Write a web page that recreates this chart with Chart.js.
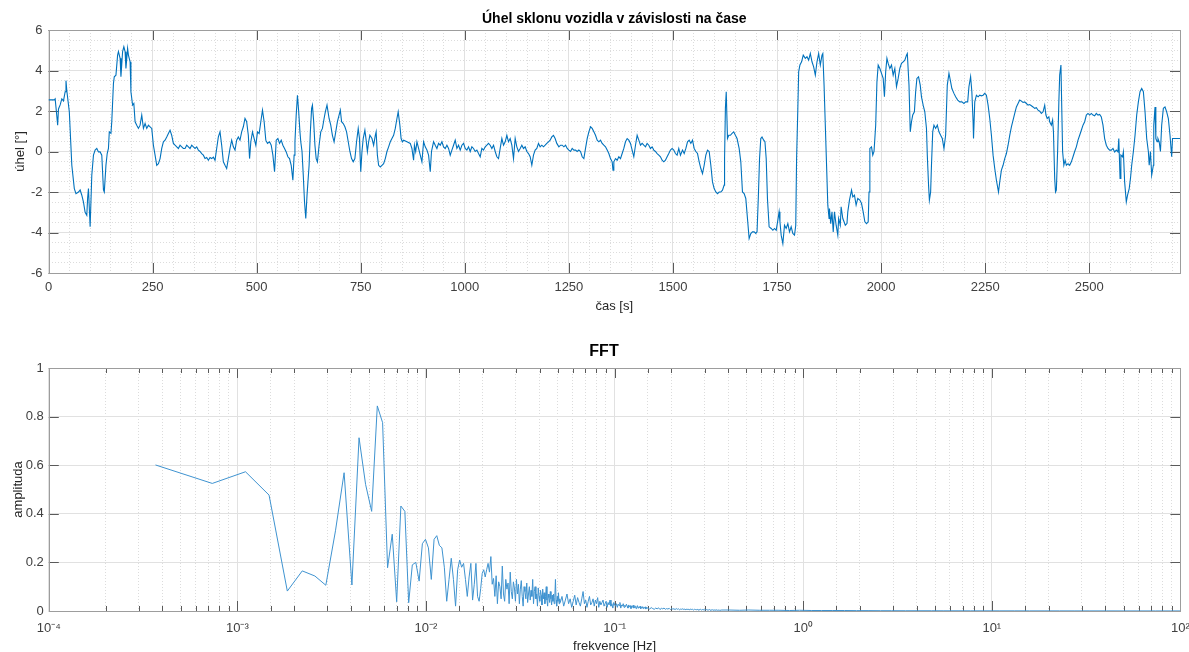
<!DOCTYPE html>
<html>
<head>
<meta charset="utf-8">
<script src="https://cdn.jsdelivr.net/npm/chart.js@4.4.1/dist/chart.umd.min.js"></script>
<style>
  html, body { margin: 0; padding: 0; background: #ffffff; }
  body { width: 1189px; height: 652px; position: relative; overflow: hidden; }
  #angleChart { position: absolute; left: 0; top: 0; width: 1189px; height: 320px; }
  #fftChart { position: absolute; left: 0; top: 340px; width: 1189px; height: 314px; }
</style>
</head>
<body>
<canvas id="angleChart" width="1189" height="320"></canvas>
<canvas id="fftChart" width="1189" height="314"></canvas>
<script>
// ---------------- measured pitch angle of the vehicle ----------------
const timeS = [
  0,14,16,19,22,24,28,32,36,40,
  42,44,50,53,56,62,66,72,76,80,
  84,88,92,94,96,100,104,108,112,116,
  120,124,128,132,134,138,141,144,146,150,
  152,156,158,162,166,168,172,174,178,181,
  184,186,190,192,196,198,202,205,208,212,
  216,220,224,228,232,236,240,244,248,252,
  256,260,264,268,272,276,280,284,288,292,
  296,300,304,308,312,316,320,324,328,332,
  336,340,344,348,352,356,360,364,368,372,
  376,380,384,388,392,396,400,404,408,412,
  416,420,424,428,432,436,440,444,448,452,
  456,460,464,468,472,476,480,483,486,490,
  494,498,502,506,510,514,518,522,526,
  531,535,539,543,547,551,555,559,563,567,
  571,575,579,583,587,590,592,595,598,601,
  604,606,609,612,615,618,621,626,629,632,
  634,637,640,643,646,650,654,658,662,665,
  669,674,678,682,686,690,694,698,701,704,
  708,712,716,720,724,728,732,736,740,744,
  747,750,753,756,760,763,766,769,772,777,
  781,785,787,790,793,797,801,805,809,813,
  817,821,825,829,833,837,840,844,847,850,
  853,861,869,873,877,879,882,885,889,893,
  897,901,905,909,913,917,920,925,929,933,
  937,941,945,949,953,957,961,965,969,973,
  977,981,985,989,993,997,1001,1005,1009,1013,
  1017,1021,1025,1029,1033,1037,1041,1045,1049,1053,
  1057,1061,1065,1069,
  1073,1077,1081,1085,1089,1093,1097,1101,1105,1109,
  1113,1117,1121,1125,1129,1133,1137,1141,1145,1149,
  1153,1157,1161,1165,1169,1173,1177,1181,1185,1189,
  1193,1197,1201,1205,1209,1213,1217,1221,1226,1230,
  1234,1238,1242,1246,1250,1254,1258,1262,1266,1270,
  1274,1278,1282,1286,1290,1294,1298,1302,1306,1310,
  1314,1318,1322,1326,1330,1334,1338,1342,1346,1350,
  1354,1356,1358,1362,1366,1370,1374,1378,1382,1386,
  1390,1394,1398,1402,1406,1410,1414,1418,1422,1426,
  1430,1434,1438,1442,1446,1450,1454,1458,1462,1466,
  1470,1474,1478,1482,1486,1490,1494,1498,1502,1506,
  1510,1514,1518,1523,1527,1531,1535,1539,1543,1547,
  1551,1555,1559,1563,1567,1571,1575,1579,1583,1587,
  1591,1595,1599,1603,1607,1611,
  1615,1619,1623,1624,1626,1628,1631,1634,1638,1642,
  1646,1650,1654,1659,1663,1667,1671,1675,1679,1683,
  1687,1691,1695,1699,1702,1705,1708,1711,1714,1718,
  1721,1724,1727,1731,1736,1740,1744,1748,1752,1755,
  1757,1760,1764,1768,1772,1776,1780,1784,1788,1792,
  1795,1797,1800,1802,1805,1809,1813,1818,1822,1826,
  1830,1834,1838,1842,1846,1850,1854,1858,1860,1863,
  1866,1869,1872,1875,1876,1879,1882,1885,1888,1892,
  1896,1898,1902,1904,1908,1911,1914,1918,1920,1924,
  1929,1932,1936,1940,1944,1949,1953,1957,1961,1965,
  1969,1971,1973,1977,1980,1983,1987,1990,1993,1997,
  2001,2005,2008,2011,2014,2017,2021,2025,2029,2033,
  2037,2041,2045,2049,2053,2057,2061,2063,2067,2070,
  2073,2076,2080,2083,2086,2090,2094,2097,2101,2105,
  2109,2111,2114,2116,2119,2121,2124,2127,2131,2135,
  2139,2143,2147,2151,2155,
  2159,2163,2167,2170,2175,2179,2184,2189,2194,2199,
  2203,2208,2211,2215,2218,2221,2222,2225,2229,2233,
  2237,2241,2245,2249,2253,2257,2261,2265,2269,2273,
  2277,2282,2285,2289,2293,2297,2301,2305,2309,2313,
  2317,2321,2325,2329,2333,2337,2341,2345,2349,2353,
  2357,2361,2365,2369,2373,2377,2381,2385,2389,2393,
  2396,2399,2403,2405,2409,2412,2414,2417,2419,2421,
  2424,2427,2429,2432,2434,2436,2439,2442,2445,2449,
  2453,2457,2461,2465,2469,2473,2477,2481,2485,2489,
  2493,2497,2501,2505,2509,2513,2517,2521,2525,2529,
  2533,2537,2541,2545,2549,2553,2557,2561,2565,2569,
  2571,2574,2576,2580,2582,2585,2589,2592,2596,2599,
  2602,2606,2610,2614,2618,2622,2626,2630,2634,2638,
  2642,2644,2647,2650,2654,2655,2658,2660,2663,2665,
  2668,2671,2674,2678,2682,2686,2690,2694,2698,2700,
  2718
];
const angleDeg = [
  2.55,2.55,2.6,1.96,1.3,2.1,2.3,2.6,2.5,2.95,
  3.5,3.0,1.96,0.64,-0.68,-1.83,-2.08,-2.0,-1.9,-2.16,
  -2.5,-3.0,-3.15,-2.3,-1.83,-3.72,-1.17,-0.18,0.07,0.15,
  -0.02,-0.02,-0.18,-1.9,-2.0,-0.68,-0.1,0.15,0.97,0.9,
  1.47,3.36,3.69,3.77,4.76,4.93,4.6,3.69,4.93,5.17,
  4.93,4.1,5.09,4.76,4.43,2.95,2.29,2.37,1.47,1.3,
  1.14,1.3,1.8,1.14,1.38,1.14,1.3,1.22,1.14,0.31,
  -0.18,-0.68,-0.6,-0.35,0.15,0.48,0.56,0.72,0.89,1.05,
  0.8,0.4,0.31,0.23,0.15,0.31,0.23,0.15,0.15,0.31,
  0.23,0.15,0.31,0.23,0.15,0.23,0.07,0.0,-0.1,-0.18,
  -0.35,-0.3,-0.43,-0.3,-0.35,-0.28,-0.43,0.15,0.72,0.97,
  0.31,-0.51,-0.68,-0.84,-0.35,0.15,0.56,0.23,0.07,0.56,
  0.72,0.56,0.97,1.22,1.63,1.47,0.8,-0.35,0.48,0.97,
  0.64,0.31,0.97,0.89,1.47,2.04,1.47,0.56,0.4,
  0.48,0.31,-0.18,-1.0,0.56,0.64,0.4,0.56,0.31,0.15,
  -0.02,-0.26,-0.35,-0.68,-1.42,-0.18,0.48,1.8,2.78,1.96,
  0.97,0.48,0.0,-1.17,-2.49,-3.31,-2.16,-0.68,0.97,2.13,
  2.29,1.47,0.31,-0.35,-0.51,0.31,0.97,1.14,1.63,1.96,
  2.29,1.63,1.3,0.8,0.48,0.97,1.47,1.8,2.04,1.47,
  1.38,1.22,0.97,0.48,0.0,-0.35,-0.51,-0.35,0.48,1.14,
  0.64,-1.0,0.0,0.64,1.05,0.56,0.0,0.48,0.8,0.64,
  0.31,0.8,0.97,-0.18,-0.68,-0.76,-0.68,-0.6,-0.35,0.0,
  0.23,0.48,0.64,0.8,1.14,1.63,1.96,1.3,0.64,0.48,
  0.56,0.48,0.4,0.15,-0.43,0.31,0.0,0.48,0.15,-0.18,
  -0.51,0.48,0.23,0.07,-0.18,-1.0,0.0,0.48,0.31,0.15,
  0.4,0.31,0.48,0.23,0.15,0.31,0.15,-0.18,0.07,0.31,
  0.56,0.15,0.31,0.07,0.31,0.4,0.15,0.07,0.23,0.0,
  0.23,0.15,0.0,0.07,-0.1,-0.26,0.15,0.07,0.23,0.31,
  0.4,0.31,0.15,0.31,
  0.0,-0.26,-0.35,0.15,0.64,0.31,0.48,0.8,0.48,0.64,
  0.31,-0.35,0.64,0.23,0.0,0.15,0.31,0.15,0.23,0.0,
  -0.1,-0.26,-0.68,-0.18,0.07,0.15,0.4,0.23,0.31,0.23,
  0.31,0.4,0.48,0.56,0.72,0.8,0.64,0.4,0.23,0.31,
  0.31,0.23,0.31,0.15,0.07,0.0,0.15,0.07,0.07,0.0,
  0.07,0.0,-0.26,-0.35,0.15,0.64,0.97,1.22,1.14,0.97,
  0.8,0.56,0.48,0.56,0.4,0.31,0.23,0.07,-0.1,-0.35,
  -0.51,-0.92,-0.51,-0.35,-0.43,-0.26,-0.35,-0.1,0.15,0.48,
  0.64,0.56,0.4,0.07,-0.26,0.31,0.8,0.56,0.31,0.4,
  0.31,0.23,0.4,0.31,0.15,0.23,0.07,0.0,-0.1,-0.18,
  -0.26,-0.43,-0.51,-0.43,-0.26,-0.1,0.07,0.15,0.07,-0.1,
  -0.18,0.15,-0.18,0.07,-0.1,0.15,0.48,0.56,0.4,0.56,
  0.15,0.0,-0.1,-0.51,-0.84,-1.09,-0.68,-0.18,0.07,0.0,
  -0.68,-1.5,-1.83,-2.0,-2.08,-2.0,
  -2.0,-1.91,-1.66,-0.35,2.13,2.95,0.64,0.8,0.8,0.89,
  0.97,0.8,0.64,0.15,-0.51,-2.0,-2.08,-2.32,-3.31,-4.3,
  -4.05,-3.97,-3.97,-4.05,-3.97,-2.32,-0.35,0.64,0.72,0.56,
  0.48,-0.35,-2.32,-3.72,-3.8,-3.89,-3.8,-3.89,-3.39,-2.98,
  -3.47,-4.13,-4.55,-3.64,-3.8,-3.56,-3.97,-3.72,-4.05,-4.13,
  -3.64,-0.35,2.13,3.94,4.27,4.43,4.76,4.6,4.68,4.51,
  4.84,4.43,4.18,3.77,4.43,4.84,4.27,4.76,4.84,3.28,
  1.3,-0.68,-2.65,-3.31,-2.82,-3.56,-2.98,-3.97,-2.98,-3.64,
  -4.13,-3.31,-3.64,-2.73,-3.31,-3.47,-3.64,-3.56,-2.98,-2.4,
  -1.91,-2.24,-2.16,-2.65,-2.32,-2.4,-2.57,-2.98,-3.47,-3.56,
  -3.47,-2.0,0.15,0.23,-0.18,0.0,1.3,3.44,4.27,4.1,
  3.86,3.61,2.7,3.94,4.6,4.35,4.1,4.27,3.77,4.1,
  3.2,3.61,4.1,4.35,4.43,4.51,4.76,4.84,3.28,0.97,
  1.47,1.8,1.96,2.95,3.61,3.69,3.28,2.7,2.29,1.96,
  1.14,-0.18,-1.66,-2.4,-2.0,-0.68,0.97,1.3,1.14,1.3,
  0.97,0.8,0.64,0.15,0.8,
  3.28,3.86,3.44,3.11,2.87,2.7,2.54,2.45,2.45,2.37,
  2.45,2.45,3.2,3.69,2.95,1.47,0.64,2.45,2.78,2.7,
  2.78,2.75,2.78,2.87,2.78,2.29,1.63,0.8,-0.18,-0.84,
  -1.42,-2.0,-1.5,-0.92,-0.68,-0.35,-0.1,0.31,0.8,1.22,
  1.55,1.88,2.2,2.37,2.54,2.49,2.42,2.45,2.37,2.29,
  2.32,2.26,2.2,2.13,2.16,2.04,1.99,1.88,1.96,2.29,
  1.8,1.63,1.71,1.47,1.3,1.55,0.97,-1.33,-2.0,-1.91,
  0.0,2.45,3.77,4.27,2.13,0.0,-0.68,-0.43,-0.68,-0.6,
  -0.68,-0.51,-0.26,0.0,0.23,0.56,0.8,1.05,1.3,1.47,
  1.8,1.88,1.8,1.88,1.8,1.76,1.88,1.8,1.83,1.71,
  1.3,0.64,0.31,0.15,0.07,0.07,0.15,-0.02,0.07,-0.02,
  0.64,-1.33,-0.18,-0.26,-0.02,-1.5,-2.49,-2.16,-1.83,-1.33,
  -0.68,0.0,0.8,1.8,2.45,2.95,3.11,2.95,1.96,0.64,
  0.0,-0.68,0.0,-1.17,-0.68,1.3,2.2,0.64,0.48,0.64,
  0.48,0.0,1.3,2.13,2.2,1.96,1.63,0.8,-0.26,0.64,
  0.64
];
const timeTicks = [0, 250, 500, 750, 1000, 1250, 1500, 1750, 2000, 2250, 2500];
const angleTicks = [-6, -4, -2, 0, 2, 4, 6];

// ---------------- amplitude spectrum of the angle ----------------
const recordLengthS = 2718;          // frequency resolution = 1 / record length
// bins 1..140
const fftAmpFine = [
  0.601,0.525,0.573,0.477,0.082,0.165,0.144,0.106,0.33,0.569,
  0.107,0.713,0.521,0.41,0.844,0.775,0.178,0.316,0.038,0.432,
  0.41,0.034,0.19,0.2,0.123,0.277,0.295,0.26,0.13,0.295,
  0.31,0.27,0.26,0.18,0.04,0.13,0.217,0.13,0.02,0.17,
  0.21,0.18,0.196,0.13,0.06,0.14,0.196,0.045,0.11,0.196,
  0.06,0.04,0.093,0.155,0.17,0.14,0.17,0.196,0.16,0.224,
  0.11,0.134,0.06,0.145,0.03,0.12,0.1,0.05,0.185,0.07,
  0.04,0.13,0.09,0.115,0.03,0.16,0.08,0.05,0.12,0.095,
  0.04,0.13,0.07,0.11,0.03,0.09,0.125,0.06,0.02,0.1,
  0.08,0.05,0.115,0.035,0.07,0.1,0.045,0.085,0.06,0.13,
  0.03,0.08,0.1,0.05,0.07,0.02,0.095,0.06,0.04,0.085,
  0.065,0.025,0.09,0.05,0.075,0.03,0.06,0.1,0.045,0.02,
  0.07,0.055,0.035,0.08,0.05,0.025,0.065,0.04,0.07,0.03,
  0.055,0.13,0.045,0.02,0.06,0.04,0.075,0.03,0.05,0.035
];
// bins 143, 146, ... 401
const fftAmpMid = [
  0.06,0.02,0.045,0.07,0.03,0.05,0.015,0.04,0.065,0.025,
  0.055,0.035,0.02,0.05,0.08,0.03,0.045,0.015,0.04,0.06,
  0.025,0.035,0.05,0.02,0.045,0.03,0.055,0.015,0.04,0.025,
  0.035,0.045,0.02,0.03,0.04,0.015,0.035,0.025,0.045,0.02,
  0.03,0.012,0.035,0.025,0.02,0.03,0.015,0.028,0.022,0.035,
  0.012,0.025,0.02,0.03,0.015,0.024,0.018,0.028,
  0.02,0.012,0.025,0.016,0.022,0.01,0.02,0.015,0.024,0.012,
  0.018,0.02,0.01,0.016,0.022,0.012,0.017,0.014,0.02,0.009,
  0.016,0.013,0.018,0.01,0.015,0.012,0.017,0.008,0.014
];
// bins 409, 417, ... 1001
const fftAmpTail = [
  0.012,0.008,0.014,0.01,0.007,0.012,0.009,0.013,0.006,0.011,
  0.009,0.012,0.007,0.01,0.008,0.011,0.006,0.01,0.008,0.009,
  0.006,0.01,0.007,0.009,0.005,0.008,0.007,0.009,0.006,0.008,
  0.005,0.008,0.006,0.007,0.005,0.008,0.006,0.007,0.004,0.007,
  0.006,0.005,0.007,0.004,0.006,0.005,0.007,0.004,0.006,0.005,
  0.006,0.004,0.005,0.006,0.004,0.005,0.004,0.006,0.003,0.005,
  0.004,0.005,0.003,0.005,0.004,0.004,0.003,0.005,0.003,0.004,
  0.004,0.003,0.004,0.003,0.004
];
const fftHighBins = [
  1100,1250,1400,1600,1800,2000,2300,2600,3000,3400,
  3900,4500,5200,6000,7000,8000,9500,11000,13000,15000,
  18000,21000,25000,30000,36000,43000,52000,62000,75000,90000,
  110000,135000,160000,200000,240000,271800
];
const fftHighAmp = [
  0.004,0.003,0.004,0.003,0.003,0.003,0.002,0.003,0.002,0.002,
  0.002,0.002,0.0015,0.0015,0.0012,0.0012,0.001,0.001,0.001,0.0008,
  0.0008,0.0007,0.0007,0.0006,0.0006,0.0005,0.0005,0.0005,0.0004,0.0004,
  0.0004,0.0003,0.0003,0.0003,0.0003,0.0003
];
const ampTicks = [0, 0.2, 0.4, 0.6, 0.8, 1];
const freqDecades = [1e-4, 1e-3, 1e-2, 1e-1, 1e0, 1e1, 1e2];
const freqTickLabels = ['10\u207B\u2074', '10\u207B\u00B3', '10\u207B\u00B2', '10\u207B\u00B9', '10\u2070', '10\u00B9', '10\u00B2'];

// ---------------- styling ----------------
const FONT = "'Liberation Sans', Arial, Helvetica, sans-serif";
const LINE_BLUE = '#0072BD';
const GRID_MAJOR = '#e1e1e1';
const GRID_MINOR = '#dcdcdc';
const BOX_COLOR = '#9d9d9d';
const TICK_COLOR = '#5a5a5a';
const LABEL_COLOR = '#404040';

const near = (a, b) => Math.abs(a - b) <= 1e-9 * Math.max(1, Math.abs(b));
const inList = (v, list) => list.some(t => near(v, t));
const isDecade = v => v > 0 && Math.abs(Math.log10(v) - Math.round(Math.log10(v))) < 1e-6;

// frame, inward tick marks and panel title, drawn like a MATLAB axes box
function axesFrame(cfg) {
  return {
    id: 'axesFrame',
    beforeDatasetsDraw(chart) {
      const {ctx, chartArea: a, scales} = chart;
      const xs = scales.x, ys = scales.y;
      ctx.save();
      ctx.lineWidth = 1;
      ctx.strokeStyle = TICK_COLOR;
      ctx.beginPath();
      xs.ticks.forEach(t => {
        const len = cfg.xTickLen(t.value);
        if (!len) return;
        const px = Math.round(xs.getPixelForValue(t.value)) + 0.5;
        ctx.moveTo(px, a.bottom); ctx.lineTo(px, a.bottom - len);
        ctx.moveTo(px, a.top); ctx.lineTo(px, a.top + len);
      });
      ys.ticks.forEach(t => {
        const len = cfg.yTickLen(t.value);
        if (!len) return;
        const py = Math.round(ys.getPixelForValue(t.value)) + 0.5;
        ctx.moveTo(a.left, py); ctx.lineTo(a.left + len, py);
        ctx.moveTo(a.right, py); ctx.lineTo(a.right - len, py);
      });
      ctx.stroke();
      ctx.strokeStyle = BOX_COLOR;
      const l = Math.round(a.left) + 0.5, t = Math.round(a.top) + 0.5;
      const r = Math.round(a.right) + 0.5, b = Math.round(a.bottom) + 0.5;
      ctx.strokeRect(l, t, r - l, b - t);
      ctx.restore();
    },
    afterDraw(chart) {
      const {ctx, chartArea: a} = chart;
      ctx.save();
      ctx.font = cfg.titleFont;
      ctx.fillStyle = '#000000';
      ctx.textAlign = 'center';
      ctx.textBaseline = 'middle';
      const x = cfg.titleX !== undefined ? cfg.titleX : (a.left + a.right) / 2;
      ctx.fillText(cfg.title, x, cfg.titleY);
      ctx.restore();
    }
  };
}

const tickFont = {family: FONT, size: 13};
const titleFontAxis = {family: FONT, size: 13};

// ---------------- upper panel: angle vs. time ----------------
new Chart(document.getElementById('angleChart'), {
  type: 'line',
  data: {
    datasets: [{
      data: timeS.map((t, i) => ({x: t, y: angleDeg[i]})),
      borderColor: LINE_BLUE,
      borderWidth: 1.1,
      pointRadius: 0,
      fill: false,
      tension: 0
    }]
  },
  options: {
    responsive: false,
    animation: false,
    devicePixelRatio: 1,
    events: [],
    layout: {padding: {left: 0, top: 30, right: 9, bottom: 0}},
    plugins: {legend: {display: false}, tooltip: {enabled: false}, title: {display: false}},
    scales: {
      x: {
        type: 'linear',
        min: 0, max: 2718,
        afterFit(s) { s.height = 47; s.paddingLeft = 0; s.paddingRight = 0; },
        ticks: {
          stepSize: 50, autoSkip: false, maxRotation: 0, includeBounds: false,
          padding: 6.5, color: LABEL_COLOR, font: tickFont,
          callback: v => inList(v, timeTicks) ? String(v) : ''
        },
        grid: {
          drawTicks: false, lineWidth: 1,
          color: c => (c.tick && inList(c.tick.value, timeTicks)) ? GRID_MAJOR : GRID_MINOR
        },
        border: {
          display: false,
          dash: c => (c.tick && !inList(c.tick.value, timeTicks)) ? [1, 2] : []
        },
        title: {display: true, text: 'čas [s]', color: '#262626', font: titleFontAxis, padding: {top: 0, bottom: 6}}
      },
      y: {
        type: 'linear',
        min: -6, max: 6,
        afterFit(s) { s.width = 48.5; s.paddingTop = 0; s.paddingBottom = 0; },
        ticks: {
          stepSize: 0.5, autoSkip: false, padding: 6, color: LABEL_COLOR, font: tickFont,
          callback: v => inList(v, angleTicks) ? String(v) : ''
        },
        grid: {
          drawTicks: false, lineWidth: 1,
          color: c => (c.tick && inList(c.tick.value, angleTicks)) ? GRID_MAJOR : GRID_MINOR
        },
        border: {
          display: false,
          dash: c => (c.tick && !inList(c.tick.value, angleTicks)) ? [1, 2] : []
        },
        title: {display: true, text: 'úhel [°]', color: '#262626', font: titleFontAxis, padding: {top: 13, bottom: 0}}
      }
    }
  },
  plugins: [axesFrame({
    xTickLen: v => inList(v, timeTicks) ? 10 : 0,
    yTickLen: v => inList(v, angleTicks) ? 10 : 0,
    title: 'Úhel sklonu vozidla v závislosti na čase',
    titleFont: 'bold 14px ' + FONT,
    titleY: 19
  })]
});

// ---------------- lower panel: FFT ----------------
const fftPoints = [];
fftAmpFine.forEach((a, i) => fftPoints.push({x: (i + 1) / recordLengthS, y: a}));
fftAmpMid.forEach((a, i) => fftPoints.push({x: (143 + 3 * i) / recordLengthS, y: a}));
fftAmpTail.forEach((a, i) => fftPoints.push({x: (409 + 8 * i) / recordLengthS, y: a}));
fftHighBins.forEach((k, i) => fftPoints.push({x: k / recordLengthS, y: fftHighAmp[i]}));

new Chart(document.getElementById('fftChart'), {
  type: 'line',
  data: {
    datasets: [{
      data: fftPoints,
      borderColor: '#3f93d0',
      borderWidth: 1,
      pointRadius: 0,
      fill: false,
      tension: 0
    }]
  },
  options: {
    responsive: false,
    animation: false,
    devicePixelRatio: 1,
    events: [],
    layout: {padding: {left: 0, top: 28, right: 8.6, bottom: 0}},
    plugins: {legend: {display: false}, tooltip: {enabled: false}, title: {display: false}},
    scales: {
      x: {
        type: 'logarithmic',
        min: 1e-4, max: 1e2,
        afterFit(s) { s.height = 43; s.paddingLeft = 0; s.paddingRight = 0; },
        ticks: {
          autoSkip: false, maxRotation: 0, padding: 10, color: LABEL_COLOR, font: tickFont,
          callback: v => {
            const i = freqDecades.findIndex(d => Math.abs(Math.log10(v) - Math.log10(d)) < 1e-6);
            return i >= 0 ? freqTickLabels[i] : '';
          }
        },
        grid: {
          drawTicks: false, lineWidth: 1,
          color: c => (c.tick && isDecade(c.tick.value)) ? GRID_MAJOR : GRID_MINOR
        },
        border: {
          display: false,
          dash: c => (c.tick && !isDecade(c.tick.value)) ? [1, 2] : []
        },
        title: {display: true, text: 'frekvence [Hz]', color: '#262626', font: titleFontAxis, padding: {top: 0, bottom: 0}}
      },
      y: {
        type: 'linear',
        min: 0, max: 1,
        afterFit(s) { s.width = 48.8; s.paddingTop = 0; s.paddingBottom = 0; },
        ticks: {
          stepSize: 0.2, autoSkip: false, padding: 5, color: LABEL_COLOR, font: tickFont,
          callback: v => {
            const t = ampTicks.find(a => near(v, a));
            return t === undefined ? '' : String(t);
          }
        },
        grid: {drawTicks: false, lineWidth: 1, color: GRID_MAJOR},
        border: {display: false},
        title: {display: true, text: 'amplituda', color: '#262626', font: titleFontAxis, padding: {top: 11, bottom: 0}}
      }
    }
  },
  plugins: [axesFrame({
    xTickLen: v => isDecade(v) ? 10 : 5,
    yTickLen: v => 10,
    title: 'FFT',
    titleFont: 'bold 16px ' + FONT,
    titleX: 604,
    titleY: 12
  })]
});
</script>
</body>
</html>
